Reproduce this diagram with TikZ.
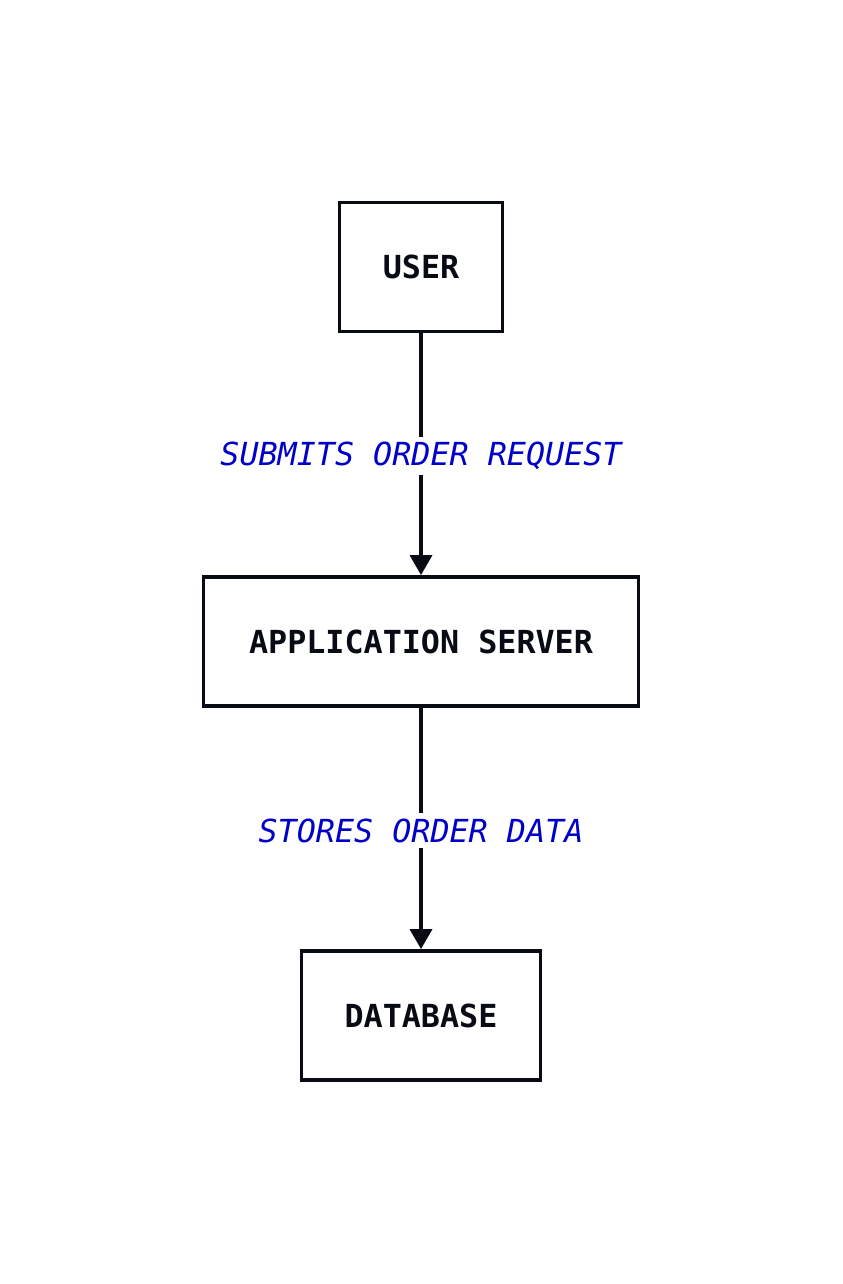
\documentclass[tikz,border=0pt]{standalone}
\usepackage{fontspec}
\setmonofont{DejaVu Sans Mono}
\usepackage{xcolor}
\usetikzlibrary{arrows.meta}
\definecolor{ink}{RGB}{8,10,20}
\definecolor{flowblue}{RGB}{0,0,200}
\tikzset{
  block/.style={draw=ink, line width=2.6pt, minimum height=97pt,
    font=\fontsize{23.8}{28}\selectfont\ttfamily\bfseries, text=ink},
  flow/.style={draw=ink, line width=2.6pt, -{Triangle[width=16.5pt,length=15pt]}},
  flowlabel/.style={fill=white, text=flowblue, inner sep=4pt, yshift=-1.5pt,
    font=\fontsize{23.8}{28}\selectfont\ttfamily\itshape}
}
\begin{document}
\begin{tikzpicture}[x=0.75pt,y=-0.75pt]
\useasboundingbox (0,0) rectangle (842,1284);

\node[block, minimum width=122pt] (user) at (421,267) {USER};
\node[block, minimum width=326pt] (server) at (421,641.5) {APPLICATION SERVER};
\node[block, minimum width=179pt] (database) at (421,1015.5) {DATABASE};

\draw[flow] (user) -- node[flowlabel] (submits) {SUBMITS ORDER REQUEST} (server);
\draw[flow] (server) -- node[flowlabel] (stores) {STORES ORDER DATA} (database);

\end{tikzpicture}
\end{document}
